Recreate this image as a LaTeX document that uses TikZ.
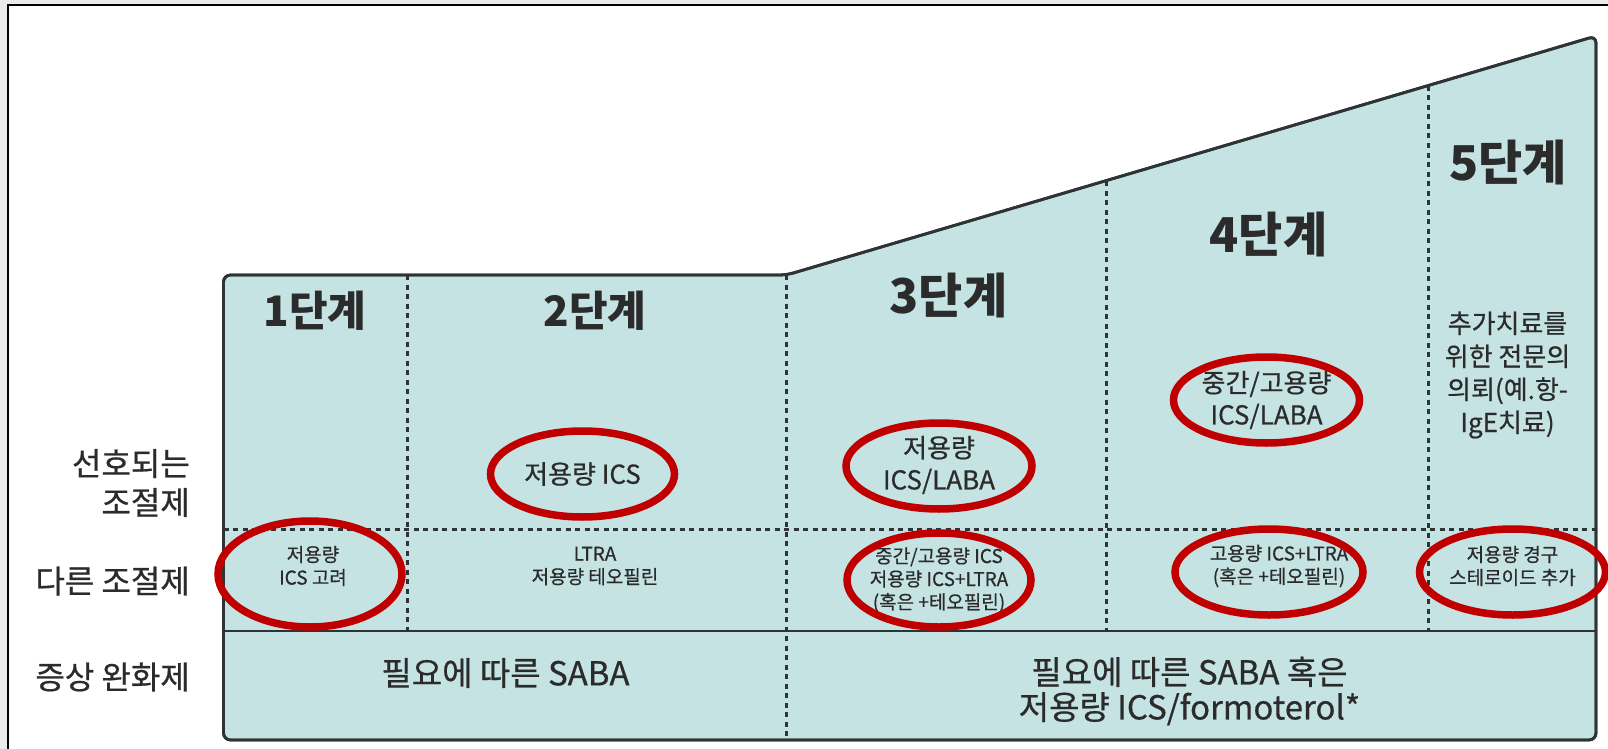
\documentclass[tikz,border=0pt]{standalone}
\usepackage{fontspec}
\setmainfont{Noto Sans CJK KR}
\newfontfamily\medfont{Noto Sans CJK KR}[FakeBold=0.6]
\definecolor{boxfill}{HTML}{C6E3E4}
\definecolor{boxline}{HTML}{2E3436}
\definecolor{ringred}{HTML}{C00000}
\definecolor{txt}{HTML}{2B2B2B}
\definecolor{edgegray}{HTML}{EBEBEB}
\begin{document}
\begin{tikzpicture}[x=1pt,y=-1pt,
  box/.style={draw=boxline, line width=2.8pt, fill=boxfill, rounded corners=7pt},
  dotline/.style={draw=boxline, line width=3pt, dash pattern=on 5pt off 4.5pt},
  solidline/.style={draw=boxline, line width=2.8pt},
  ring/.style={draw=ringred, line width=7.5pt},
  stage/.style={font=\fontsize{42}{46}\selectfont\bfseries, text=txt, inner sep=0pt},
  bigstage/.style={font=\fontsize{48}{52}\selectfont\bfseries, text=txt, inner sep=0pt},
  rowlabel/.style={font=\medfont\fontsize{32}{39}\selectfont, text=txt, inner sep=0pt, anchor=east, align=right},
  preftext/.style={font=\medfont\fontsize{26}{32}\selectfont, text=txt, inner sep=0pt, align=center},
  othertext/.style={font=\medfont\fontsize{19}{23}\selectfont, text=txt, inner sep=0pt, align=center},
  desctext/.style={font=\medfont\fontsize{26}{33}\selectfont, text=txt, inner sep=0pt, align=center},
  relieftext/.style={font=\medfont\fontsize{33}{35}\selectfont, text=txt, inner sep=0pt, align=center}
]
\useasboundingbox (0,0) rectangle (1608,749);
% screenshot frame
\fill[edgegray] (0,0) rectangle (1608,749);
\fill[white] (8,5) rectangle (1608,749);
\draw[black, line width=2pt] (8,749) -- (8,5) -- (1608,5);

% main shape
\coordinate (tl) at (223.5,275);
\coordinate (step) at (786.5,275);
\coordinate (tr) at (1596,36);
\coordinate (br) at (1596,740);
\coordinate (bl) at (223.5,740);
\path[box] (tl) -- (step) -- (tr) -- (br) -- (bl) -- cycle;

% row separators
\coordinate (hdL) at (223.5,529);
\coordinate (hdR) at (1596,529);
\coordinate (hsL) at (223.5,631);
\coordinate (hsR) at (1596,631);
\draw[dotline] (hdL) -- (hdR);
\draw[solidline] (hsL) -- (hsR);

% column separators
\coordinate (v1t) at (407,275);
\coordinate (v1b) at (407,631);
\coordinate (v2t) at (786.5,275);
\coordinate (v2b) at (786.5,740);
\coordinate (v3t) at (1106.5,181);
\coordinate (v3b) at (1106.5,631);
\coordinate (v4t) at (1428.5,86);
\coordinate (v4b) at (1428.5,631);
\draw[dotline] (v1t) -- (v1b);
\draw[dotline] (v2t) -- (v2b);
\draw[dotline] (v3t) -- (v3b);
\draw[dotline] (v4t) -- (v4b);
% redraw outline on top
\path[box, fill=none] (tl) -- (step) -- (tr) -- (br) -- (bl) -- cycle;

% stage labels
\node[stage] (s1) at (315,311) {1단계};
\node[stage] (s2) at (595,311) {2단계};
\node[bigstage] (s3) at (948.5,295) {3단계};
\node[bigstage] (s4) at (1268.5,234) {4단계};
\node[bigstage] (s5) at (1508,162) {5단계};

% row labels
\node[rowlabel] (lpref) at (190,483) {선호되는\\조절제};
\node[rowlabel] (lother) at (190,581) {다른 조절제};
\node[rowlabel] (lrelief) at (190,677) {증상 완화제};

% preferred controllers
\node[preftext] (p2) at (582.5,474) {저용량 ICS};
\node[preftext] (p3) at (939,465) {저용량\\ICS/LABA};
\node[preftext] (p4) at (1266.5,400) {중간/고용량\\ICS/LABA};
\node[desctext] (p5) at (1507.5,375) {추가치료를\\위한 전문의\\의뢰(예.항-\\IgE치료)};

% other controllers
\node[othertext] (o1) at (313,566) {저용량\\ICS 고려};
\node[othertext] (o2) at (595,566) {LTRA\\저용량 테오필린};
\node[othertext] (o3) at (939,580) {중간/고용량 ICS\\저용량 ICS+LTRA\\(혹은 +테오필린)};
\node[othertext] (o4) at (1279,566) {고용량 ICS+LTRA\\(혹은 +테오필린)};
\node[othertext] (o5) at (1512.5,566) {저용량 경구\\스테로이드 추가};

% relievers
\node[relieftext] (r1) at (505.5,673) {필요에 따른 SABA};
\node[relieftext] (r2) at (1189.5,691) {필요에 따른 SABA 혹은\\저용량 ICS/formoterol*};

% red highlight rings
\draw[ring] (582.5,474) ellipse [x radius=92, y radius=43];
\draw[ring] (939,466) ellipse [x radius=93, y radius=43];
\draw[ring] (1266.5,400) ellipse [x radius=93, y radius=43];
\draw[ring] (310,574) ellipse [x radius=92, y radius=53];
\draw[ring] (939,580) ellipse [x radius=92, y radius=47];
\draw[ring] (1269,572) ellipse [x radius=94, y radius=43];
\draw[ring] (1512.5,572) ellipse [x radius=93, y radius=43];
\end{tikzpicture}
\end{document}
